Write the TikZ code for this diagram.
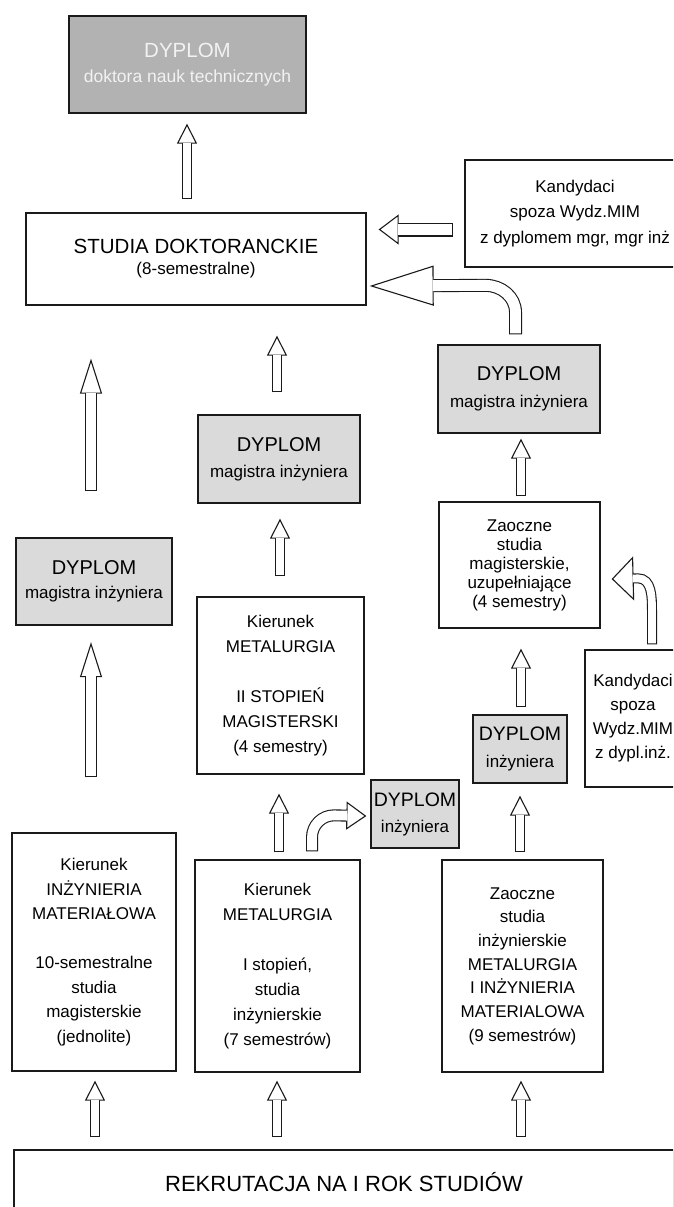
\documentclass[tikz,border=0pt]{standalone}
\usepackage{fontspec}
\setmainfont{Liberation Sans}
\usepackage{tikz}
\usetikzlibrary{arrows.meta}
\definecolor{ink}{HTML}{1A1A1A}
\definecolor{shade}{HTML}{DADADA}
\definecolor{shadedark}{HTML}{B2B2B2}
\definecolor{paletext}{HTML}{F2F2F2}
\newcommand{\txtsize}[2]{\fontsize{#1}{#2}\selectfont}
\tikzset{
  box/.style={draw=ink,line width=1.3pt,fill=white,align=center,inner sep=0pt},
  dyplom/.style={box,fill=shade},
  hollow/.style args={#1/#2/#3/#4}{draw=ink,line width=#1,
    -{Triangle[fill=white,line width=1.1pt,width=#3,length=#4]},
    postaction={draw=white,line width=#2,-,shorten <=1.1pt,shorten >=#4-1pt}},
  upar/.style={hollow=10pt/7.8pt/20pt/20pt},
  uplong/.style={hollow=12pt/9.8pt/22pt/35pt},
}

\begin{document}
\begin{tikzpicture}[x=1pt,y=1pt]
  \path[use as bounding box,clip] (0,0) rectangle (673,-1207);

  \node[dyplom,fill=shadedark,text=paletext,minimum width=237pt,minimum height=97pt,font=\txtsize{17.5}{25}] (doktor) at (187.5,-64.5)
    {{\txtsize{20.5}{25}DYPLOM}\\doktora nauk technicznych};
  \node[box,minimum width=340pt,minimum height=92pt,font=\txtsize{20.5}{21}] (studia) at (196,-259)
    {STUDIA DOKTORANCKIE\\{\txtsize{17}{21}(8-semestralne)}};
  \node[box,minimum width=220pt,minimum height=107pt,font=\txtsize{17}{25.5}] (kandmgr) at (575,-213.5)
    {Kandydaci\\spoza Wydz.MIM\\z dyplomem mgr, mgr inż};

  \node[dyplom,minimum width=162pt,minimum height=88pt,font=\txtsize{17}{27}] (dypr) at (519,-389)
    {{\txtsize{20}{27}DYPLOM}\\magistra inżyniera};
  \node[dyplom,minimum width=162pt,minimum height=88pt,font=\txtsize{17}{26}] (dypm) at (279,-459)
    {{\txtsize{20}{26}DYPLOM}\\magistra inżyniera};
  \node[dyplom,minimum width=156pt,minimum height=87pt,font=\txtsize{17}{24}] (dypl) at (94,-581.5)
    {{\txtsize{20}{24}DYPLOM}\\magistra inżyniera};

  \node[box,minimum width=161pt,minimum height=126pt,font=\txtsize{17}{19}] (zaomag) at (519.5,-565)
    {Zaoczne\\studia\\magisterskie,\\uzupełniające\\(4 semestry)};
  \node[box,minimum width=167pt,minimum height=177pt,font=\txtsize{17}{25}] (met2) at (280.5,-685.5)
    {Kierunek\\METALURGIA\\[25pt]II STOPIEŃ\\MAGISTERSKI\\(4 semestry)};
  \node[box,minimum width=96pt,minimum height=137pt,font=\txtsize{17}{24}] (kandinz) at (633,-718.5)
    {Kandydaci\\spoza\\Wydz.MIM\\z dypl.inż.};

  \node[dyplom,minimum width=94pt,minimum height=68pt,font=\txtsize{17}{27}] (dypinzr) at (520,-749)
    {{\txtsize{19.5}{27}DYPLOM}\\inżyniera};
  \node[dyplom,minimum width=88pt,minimum height=68pt,font=\txtsize{17}{26}] (dypinzm) at (415,-814)
    {{\txtsize{19.5}{26}DYPLOM}\\inżyniera};

  \node[box,minimum width=164pt,minimum height=238pt,font=\txtsize{17}{24.5}] (kim) at (94,-952)
    {Kierunek\\INŻYNIERIA\\MATERIAŁOWA\\[24.5pt]10-semestralne\\studia\\magisterskie\\(jednolite)};
  \node[box,minimum width=165pt,minimum height=212pt,font=\txtsize{17}{25}] (kmet) at (277.5,-966)
    {Kierunek\\METALURGIA\\[25pt]I stopień,\\studia\\inżynierskie\\(7 semestrów)};
  \node[box,minimum width=161pt,minimum height=212pt,font=\txtsize{17}{23.7}] (zaoinz) at (522.5,-966)
    {Zaoczne\\studia\\inżynierskie\\METALURGIA\\I INŻYNIERIA\\MATERIALOWA\\(9 semestrów)};

  \node[box,minimum width=660pt,minimum height=65pt,font=\txtsize{22}{24}] (rek) at (344,-1182.5)
    {REKRUTACJA NA I ROK STUDIÓW};

  \draw[upar] ([xshift=-9pt,yshift=13pt]studia.north) -- ([xshift=-0.5pt,yshift=-10pt]doktor.south);
  \draw[upar] ([xshift=-2pt,yshift=22pt]dypm.north) -- ([xshift=81pt,yshift=-30pt]studia.south);
  \draw[uplong] ([xshift=-3pt,yshift=46pt]dypl.north) -- ([xshift=-105pt,yshift=-53pt]studia.south);
  \draw[uplong] ([xshift=-3pt,yshift=55pt]kim.north) -- ([xshift=-3pt,yshift=-16.5pt]dypl.south);
  \draw[upar] ([xshift=-0.5pt,yshift=20pt]met2.north) -- ([xshift=1pt,yshift=-15pt]dypm.south);
  \draw[upar] ([xshift=1.5pt,yshift=7pt]kmet.north) -- ([xshift=-1.5pt,yshift=-19pt]met2.south);
  \draw[upar] ([xshift=1.5pt,yshift=5pt]zaomag.north) -- ([xshift=2pt,yshift=-5pt]dypr.south);
  \draw[upar] ([xshift=1pt,yshift=7pt]dypinzr.north) -- ([xshift=1.5pt,yshift=-20pt]zaomag.south);
  \draw[upar] ([xshift=-2.5pt,yshift=7pt]zaoinz.north) -- ([yshift=-12pt]dypinzr.south);
  \draw[upar] ([xshift=-249pt,yshift=12pt]rek.north) -- ([xshift=1pt,yshift=-9pt]kim.south);
  \draw[upar] ([xshift=-67pt,yshift=12pt]rek.north) -- ([xshift=-0.5pt,yshift=-8pt]kmet.south);
  \draw[upar] ([xshift=177pt,yshift=12pt]rek.north) -- ([xshift=-1.5pt,yshift=-8pt]zaoinz.south);

  \draw[hollow=14pt/11.8pt/30pt/20pt] ([xshift=-11pt,yshift=-16pt]kandmgr.west) -- ([xshift=12pt,yshift=29.5pt]studia.east);
  \draw[hollow=13pt/10.8pt/40pt/64pt] ([xshift=-3.5pt,yshift=10pt]dypr.north) -- ++(0,22)
    to[out=90,in=0] ++(-30,27) -- ([xshift=3pt,yshift=-27pt]studia.east);
  \draw[hollow=12pt/9.8pt/28pt/20pt] ([xshift=34.5pt,yshift=8pt]kmet.north) -- ++(0,14)
    to[out=90,in=180] ++(22,22) -- ([xshift=-4pt,yshift=-2pt]dypinzm.west);
  \draw[hollow=10pt/7.8pt/44pt/22pt] ([xshift=19pt,yshift=5pt]kandinz.north) -- ++(0,33)
    to[out=90,in=0] ++(-14,33) -- ([xshift=11pt,yshift=-14pt]zaomag.east);
\end{tikzpicture}
\end{document}
